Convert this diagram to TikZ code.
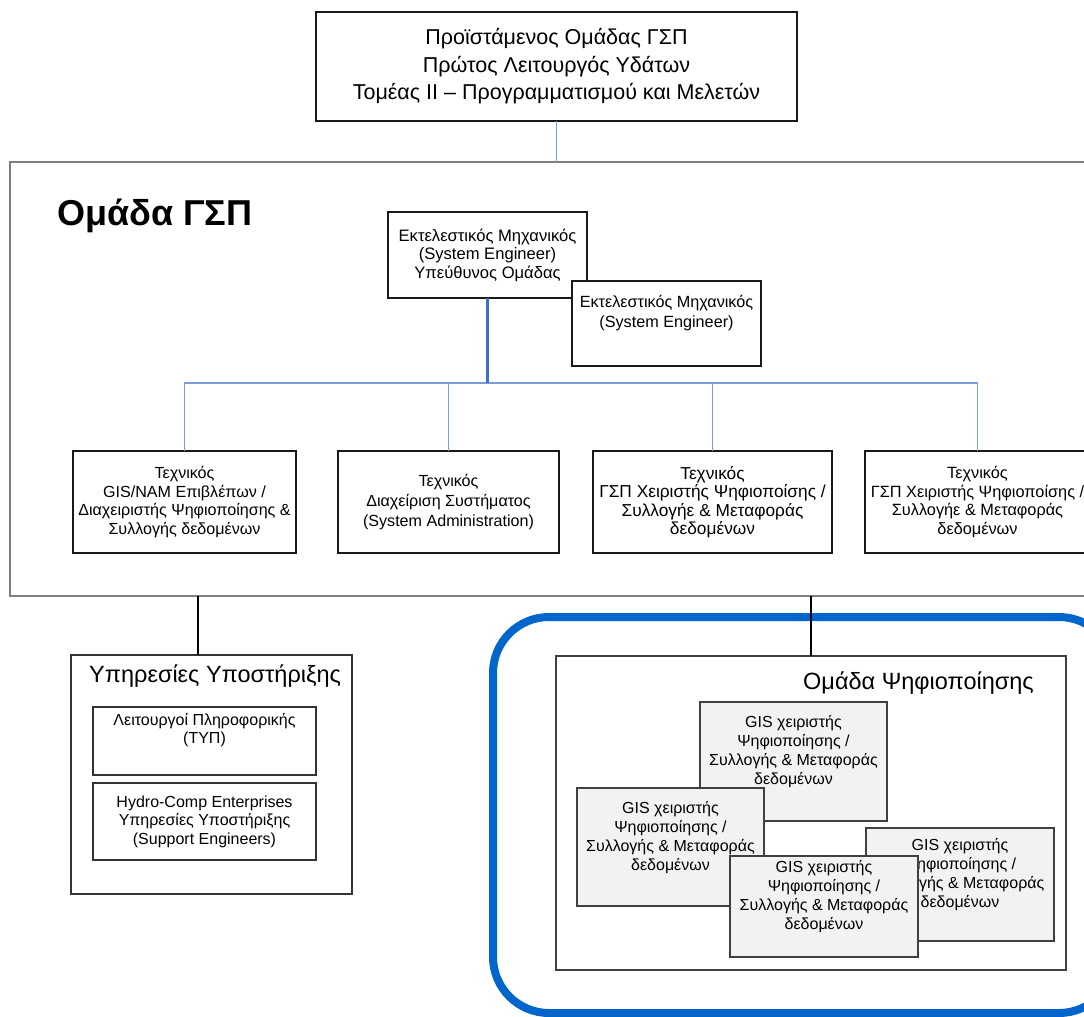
\documentclass[tikz,border=0pt]{standalone}
\usepackage{fontspec}
\setmainfont{Liberation Sans}
\newcommand\myfs[2]{\fontsize{#1}{#2}\selectfont}
\definecolor{grpgray}{HTML}{7F7F7F}
\definecolor{linkblue}{HTML}{7A9CD8}
\definecolor{darkblue}{HTML}{3F6FC4}
\definecolor{ringblue}{HTML}{0066CC}
\definecolor{gisfill}{HTML}{F2F2F2}
\definecolor{gisline}{HTML}{404040}
\tikzset{
  rbox/.style={draw=black!90, line width=1.2pt, fill=white, inner sep=0pt, outer sep=0pt, align=center},
  gbox/.style={draw=gisline, line width=1.2pt, fill=gisfill, inner sep=0pt, outer sep=0pt},
  txt/.style={inner sep=0pt, outer sep=0pt, align=center, font=\myfs{16}{19}},
  bluelink/.style={draw=linkblue, line width=1.8pt},
  bluedark/.style={draw=darkblue, line width=2.2pt},
  blacklink/.style={draw=black, line width=1.2pt},
}
\begin{document}
\begin{tikzpicture}[x=1pt,y=-1pt]
\useasboundingbox (0,0) rectangle (1084,1017);
\clip (0,0) rectangle (1084,1017);
% group box
\node[rbox, draw=grpgray, line width=2pt, minimum width=1110pt, minimum height=434pt] (grp) at (565,379) {};
\node[anchor=base west, inner sep=0pt, font=\myfs{36}{40}\bfseries] (grpt) at (57,225) {Ομάδα ΓΣΠ};
% top box
\node[rbox, minimum width=481pt, minimum height=109pt, font=\myfs{21.5}{27.5}] (top) at (556.5,66.5) {Προϊστάμενος Ομάδας ΓΣΠ\\Πρώτος Λειτουργός Υδάτων\\Τομέας ΙΙ – Προγραμματισμού και Μελετών};
\draw[bluelink] (top.south) -- (top.south |- grp.north);
% system engineers
\node[rbox, minimum width=199pt, minimum height=86pt, font=\myfs{16.6}{18.5}] (se1) at (487.5,255) {Εκτελεστικός Μηχανικός\\(System Engineer)\\Υπεύθυνος Ομάδας};
\node[rbox, minimum width=189pt, minimum height=85pt] (se2) at (666.5,323.5) {};
\node[txt, font=\myfs{16.2}{19.5}] (se2t) at (666.5,313) {Εκτελεστικός Μηχανικός\\(System Engineer)};
% bus
\coordinate (bus) at (487.5,383);
\node[rbox, minimum width=223pt, minimum height=102pt, font=\myfs{16.1}{18.7}] (t1) at (184.5,502) {Τεχνικός\\GIS/NAM Επιβλέπων /\\Διαχειριστής Ψηφιοποίησης \&\\Συλλογής δεδομένων};
\node[rbox, minimum width=221pt, minimum height=102pt, font=\myfs{16.1}{19.8}] (t2) at (448.5,502) {Τεχνικός\\Διαχείριση Συστήματος\\(System Administration)};
\node[rbox, minimum width=239pt, minimum height=102pt, font=\myfs{17.3}{18.3}] (t3) at (712.5,502) {Τεχνικός\\ΓΣΠ Χειριστής Ψηφιοποίσης /\\Συλλογήε \& Μεταφοράς\\δεδομένων};
\node[rbox, minimum width=225pt, minimum height=102pt, font=\myfs{16.3}{18.5}] (t4) at (977.5,502) {Τεχνικός\\ΓΣΠ Χειριστής Ψηφιοποίσης /\\Συλλογήε \& Μεταφοράς\\δεδομένων};
\draw[bluelink] (t1.north) |- (bus);
\draw[bluelink] (t2.north) |- (bus);
\draw[bluelink] (t3.north) |- (bus);
\draw[bluelink] (t4.north) |- (bus);
\draw[bluedark] (se1.south) -- (bus);
% support services
\coordinate (c1) at (198,596);
\node[rbox, draw=black!80, minimum width=281pt, minimum height=239pt] (sup) at (211.5,774.5) {};
\node[anchor=base west, inner sep=0pt, font=\myfs{23.5}{28}] (supt) at (89,682) {Υπηρεσίες Υποστήριξης};
\draw[blacklink] (c1) -- (c1 |- sup.north);
\node[rbox, draw=black!80, minimum width=223pt, minimum height=68pt] (supa) at (204.5,741) {};
\node[txt, font=\myfs{16}{18}] (supat) at (204.5,730) {Λειτουργοί Πληροφορικής\\(ΤΥΠ)};
\node[rbox, draw=black!80, minimum width=223pt, minimum height=77pt, font=\myfs{16}{18.5}] (supb) at (204.5,821.5) {Hydro-Comp Enterprises\\Υπηρεσίες Υποστήριξης\\(Support Engineers)};
% digitisation team
\node[draw=ringblue, line width=8pt, rounded corners=56pt, minimum width=622pt, minimum height=396pt, inner sep=0pt] (ring) at (804,815) {};
\node[rbox, draw=black!75, minimum width=510pt, minimum height=314pt] (dig) at (811,813) {};
\node[anchor=base west, inner sep=0pt, font=\myfs{23.5}{28}] (digt) at (803,689) {Ομάδα Ψηφιοποίησης};
\draw[blacklink] (dig.north |- grp.south) -- (dig.north);
\node[gbox, minimum width=187pt, minimum height=119pt] (g1) at (793.5,761.5) {};
\node[txt] (g1t) at (793.5,751.5) {GIS χειριστής\\Ψηφιοποίησης /\\Συλλογής \& Μεταφοράς\\δεδομένων};
\node[gbox, minimum width=187pt, minimum height=118pt] (g2) at (670.5,847) {};
\node[txt] (g2t) at (670.5,837) {GIS χειριστής\\Ψηφιοποίησης /\\Συλλογής \& Μεταφοράς\\δεδομένων};
\node[gbox, minimum width=188pt, minimum height=113pt] (g4) at (960,884.5) {};
\node[txt] (g4t) at (960,874) {GIS χειριστής\\Ψηφιοποίησης /\\Συλλογής \& Μεταφοράς\\δεδομένων};
\node[gbox, minimum width=188pt, minimum height=101pt] (g3) at (824,906.5) {};
\node[txt] (g3t) at (824,896.5) {GIS χειριστής\\Ψηφιοποίησης /\\Συλλογής \& Μεταφοράς\\δεδομένων};
\end{tikzpicture}
\end{document}
